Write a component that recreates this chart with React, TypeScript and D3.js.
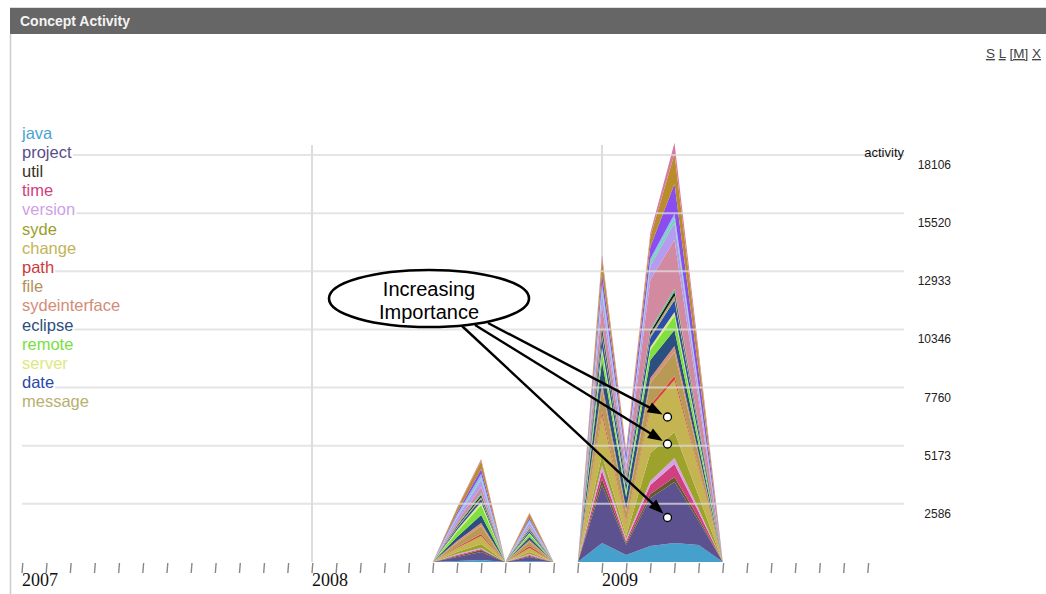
import React, { useEffect, useRef } from "react";
import * as d3 from "d3";

// Months of the stream (each a point on the monthly axis)
const months = ["2008-06","2008-07","2008-08","2008-09","2008-10","2008-11","2008-12","2009-01","2009-02","2009-03","2009-04","2009-05","2009-06"];

// Concept activity per month (bottom to top of the stack)
const java          = [0, 45, 89, 0, 45, 0, 0, 846, 312, 712, 846, 757, 0];
const project       = [0, 178, 356, 0, 178, 0, 0, 2581, 445, 2136, 2715, 1068, 0];
const util          = [0, 45, 89, 0, 45, 0, 0, 267, 89, 178, 223, 134, 0];
const time          = [0, 45, 45, 0, 45, 0, 0, 356, 89, 401, 579, 267, 0];
const version       = [0, 45, 45, 0, 45, 0, 0, 267, 89, 178, 267, 134, 0];
const syde          = [0, 89, 178, 0, 89, 0, 0, 445, 134, 1246, 1157, 579, 0];
const change        = [0, 178, 356, 0, 178, 0, 0, 1780, 534, 2003, 2314, 1157, 0];
const path          = [0, 45, 89, 0, 89, 0, 0, 178, 89, 134, 178, 89, 0];
const file          = [0, 178, 356, 0, 178, 0, 0, 979, 445, 979, 1068, 534, 0];
const sydeinterface = [0, 89, 134, 0, 89, 0, 0, 267, 134, 223, 267, 134, 0];
const eclipse       = [0, 178, 356, 0, 134, 0, 0, 979, 534, 801, 712, 356, 0];
const remote        = [0, 223, 445, 0, 134, 0, 0, 445, 178, 445, 623, 312, 0];
const server        = [0, 89, 134, 0, 45, 0, 0, 178, 89, 134, 178, 89, 0];
const date          = [0, 89, 134, 0, 89, 0, 0, 445, 267, 401, 534, 267, 0];
const message       = [0, 45, 89, 0, 45, 0, 0, 178, 89, 134, 178, 89, 0];
// further concepts beyond the visible legend
const concept16     = [0, 45, 89, 0, 45, 0, 0, 223, 89, 134, 178, 89, 0];
const concept17     = [0, 45, 89, 0, 45, 0, 0, 134, 89, 89, 134, 89, 0];
const concept18     = [0, 134, 267, 0, 89, 0, 0, 890, 356, 2225, 2181, 1068, 0];
const concept19     = [0, 178, 312, 0, 134, 0, 0, 534, 267, 623, 757, 356, 0];
const concept20     = [0, 45, 89, 0, 45, 0, 0, 178, 89, 178, 223, 134, 0];
const concept21     = [0, 89, 178, 0, 89, 0, 0, 267, 89, 134, 178, 89, 0];
const concept22     = [0, 89, 223, 0, 89, 0, 0, 445, 267, 534, 1335, 668, 0];
const concept23     = [0, 178, 356, 0, 178, 0, 0, 623, 178, 445, 1335, 668, 0];
const concept24     = [0, 45, 89, 0, 45, 0, 0, 178, 89, 178, 490, 267, 0];

const layers = [
  { name: "java", color: "#45a0cc", text: "#4aa3d2", values: java },
  { name: "project", color: "#5d5290", text: "#5a4e8a", values: project },
  { name: "util", color: "#625a2c", text: "#38321e", values: util },
  { name: "time", color: "#d1407e", text: "#d1407e", values: time },
  { name: "version", color: "#d6a2e8", text: "#cf9fe6", values: version },
  { name: "syde", color: "#9ca22c", text: "#9aa02a", values: syde },
  { name: "change", color: "#c4b552", text: "#c2b456", values: change },
  { name: "path", color: "#d8403e", text: "#d0393c", values: path },
  { name: "file", color: "#b89a55", text: "#b0925a", values: file },
  { name: "sydeinterface", color: "#d8907a", text: "#d48c78", values: sydeinterface },
  { name: "eclipse", color: "#2b5080", text: "#2c4e7e", values: eclipse },
  { name: "remote", color: "#80e040", text: "#78e040", values: remote },
  { name: "server", color: "#dcea80", text: "#dde880", values: server },
  { name: "date", color: "#2a4eaa", text: "#2a48a8", values: date },
  { name: "message", color: "#b8b070", text: "#b8b070", values: message },
  { name: "c16", color: "#1a1a1a", text: "#1a1a1a", values: concept16 },
  { name: "c17", color: "#58c890", text: "#58c890", values: concept17 },
  { name: "c18", color: "#d28aa0", text: "#d28aa0", values: concept18 },
  { name: "c19", color: "#b59cf0", text: "#b59cf0", values: concept19 },
  { name: "c20", color: "#70d8b0", text: "#70d8b0", values: concept20 },
  { name: "c21", color: "#90b8f0", text: "#90b8f0", values: concept21 },
  { name: "c22", color: "#8a4ef0", text: "#8a4ef0", values: concept22 },
  { name: "c23", color: "#b98e2a", text: "#b98e2a", values: concept23 },
  { name: "c24", color: "#d77aa0", text: "#d77aa0", values: concept24 },
];
const legendCount = 15;

const yTicks = [2586, 5173, 7760, 10346, 12933, 15520, 18106];
const yMax = 18106;
const years = ["2007", "2008", "2009"];
const axisMonths = 36;

const monthIndex = (s: string) => {
  const [yy, mm] = s.split("-").map(Number);
  return (yy - 2007) * 12 + (mm - 1);
};

const SANS = "Liberation Sans, Arial, Helvetica, sans-serif";

export default function App() {
  const ref = useRef<SVGSVGElement>(null);

  useEffect(() => {
    const svg = d3.select(ref.current);
    svg.selectAll("*").remove();

    const x = d3.scaleLinear().domain([0, axisMonths]).range([22, 892]);
    const y = d3.scaleLinear().domain([0, yMax]).range([562, 155]);

    // frame
    svg.append("rect").attr("x", 0).attr("y", 0).attr("width", 1046).attr("height", 594).attr("fill", "#fff");
    svg.append("line").attr("x1", 10).attr("x2", 1046).attr("y1", 7.5).attr("y2", 7.5).attr("stroke", "#ddd");
    svg.append("rect").attr("x", 10).attr("y", 8).attr("width", 1036).attr("height", 26).attr("fill", "#666");
    svg.append("text").attr("x", 20).attr("y", 26).text("Concept Activity")
      .attr("fill", "#f4f4f4").attr("font-family", SANS)
      .attr("font-weight", "bold").attr("font-size", 14);
    svg.append("line").attr("x1", 10.5).attr("x2", 10.5).attr("y1", 34).attr("y2", 594)
      .attr("stroke", "#ccc").attr("stroke-width", 1.5);

    // window controls
    const ctrl = svg.append("text").attr("x", 1041).attr("y", 58).attr("text-anchor", "end")
      .attr("font-family", SANS).attr("font-size", 13.5).attr("fill", "#444");
    ["S", " ", "L", " ", "[M]", " ", "X"].forEach((t) => {
      ctrl.append("tspan").text(t).attr("text-decoration", t.trim() ? "underline" : "none");
    });

    // vertical year grid lines
    years.forEach((yr, i) => {
      if (i === 0) return;
      const xx = x(i * 12);
      svg.append("line").attr("x1", xx).attr("x2", xx).attr("y1", 145).attr("y2", 562)
        .attr("stroke", "#ddd").attr("stroke-width", 2);
    });

    // stacked stream
    const rows = months.map((m, i) => {
      const r: any = { idx: monthIndex(m) };
      layers.forEach((l) => (r[l.name] = l.values[i]));
      return r;
    });
    const stack = d3.stack().keys(layers.map((l) => l.name));
    const series = stack(rows);
    const area = d3.area<any>()
      .x((d) => x(d.data.idx))
      .y0((d) => y(d[0]))
      .y1((d) => y(d[1]))
      .curve(d3.curveLinear);
    svg.append("g").selectAll("path").data(series).join("path")
      .attr("d", area as any)
      .attr("fill", (_, i) => layers[i].color);

    // horizontal grid lines (over stream, faint)
    yTicks.forEach((t) => {
      svg.append("line").attr("x1", 22).attr("x2", 904).attr("y1", y(t)).attr("y2", y(t))
        .attr("stroke", "#dcdcdc").attr("stroke-opacity", 0.75).attr("stroke-width", 2);
      svg.append("text").attr("x", 951).attr("y", y(t) + 14).attr("text-anchor", "end").text(String(t))
        .attr("font-family", SANS).attr("font-size", 12).attr("fill", "#222");
    });
    svg.append("text").attr("x", 904).attr("y", 157).attr("text-anchor", "end").text("activity")
      .attr("font-family", SANS).attr("font-size", 13).attr("fill", "#111");

    // month ticks
    d3.range(axisMonths).forEach((m) => {
      const xx = x(m);
      svg.append("line").attr("x1", xx + 0.8).attr("x2", xx).attr("y1", 563).attr("y2", 573)
        .attr("stroke", "#888").attr("stroke-width", 1.4);
    });
    years.forEach((yr, i) => {
      svg.append("text").attr("x", x(i * 12)).attr("y", 586).text(yr)
        .attr("font-family", "Liberation Serif, Times New Roman, serif").attr("font-size", 18).attr("fill", "#111");
    });

    // legend
    const lg = svg.append("g");
    layers.slice(0, legendCount).forEach((l, i) => {
      const ty = 138.5 + i * 19.2;
      const bg = lg.append("rect").attr("fill", "#fff");
      const t = lg.append("text").attr("x", 22).attr("y", ty).text(l.name)
        .attr("font-family", SANS).attr("font-size", 16.5).attr("fill", l.text);
      const bb = (t.node() as SVGTextElement).getBBox();
      bg.attr("x", bb.x).attr("y", bb.y + 2).attr("width", bb.width + 1).attr("height", bb.height - 3);
    });

    // annotation
    const ann = svg.append("g");
    const origin = [
      { sx: 488, sy: 323, ex: 667.5, ey: 417 },
      { sx: 475, sy: 325, ex: 667.5, ey: 444 },
      { sx: 462, sy: 326, ex: 667.5, ey: 517.5 },
    ];
    origin.forEach((o) => {
      const dx = o.ex - o.sx, dy = o.ey - o.sy;
      const len = Math.hypot(dx, dy);
      const ux = dx / len, uy = dy / len;
      const tipX = o.ex - ux * 5.5, tipY = o.ey - uy * 5.5;
      const hl = 15, hw = 5.5;
      const bx = tipX - ux * hl, by = tipY - uy * hl;
      ann.append("line").attr("x1", o.sx).attr("y1", o.sy).attr("x2", bx + ux * 2).attr("y2", by + uy * 2)
        .attr("stroke", "#000").attr("stroke-width", 2.4);
      ann.append("polygon")
        .attr("points", `${tipX},${tipY} ${bx - uy * hw},${by + ux * hw} ${bx + uy * hw},${by - ux * hw}`)
        .attr("fill", "#000");
      ann.append("circle").attr("cx", o.ex).attr("cy", o.ey).attr("r", 4)
        .attr("fill", "#fff").attr("stroke", "#000").attr("stroke-width", 1.3);
    });
    ann.append("ellipse").attr("cx", 429).attr("cy", 298.5).attr("rx", 100).attr("ry", 28.5)
      .attr("fill", "#fff").attr("stroke", "#000").attr("stroke-width", 2.6);
    ann.append("text").attr("x", 429).attr("y", 296).attr("text-anchor", "middle").text("Increasing")
      .attr("font-family", SANS).attr("font-size", 20).attr("fill", "#000");
    ann.append("text").attr("x", 429).attr("y", 319).attr("text-anchor", "middle").text("Importance")
      .attr("font-family", SANS).attr("font-size", 20).attr("fill", "#000");
  }, []);

  return (
    <div style={{ position: "absolute", left: 0, top: 0, width: 1046, height: 594 }}>
      <svg ref={ref} width={1046} height={594} style={{ display: "block" }} />
    </div>
  );
}
